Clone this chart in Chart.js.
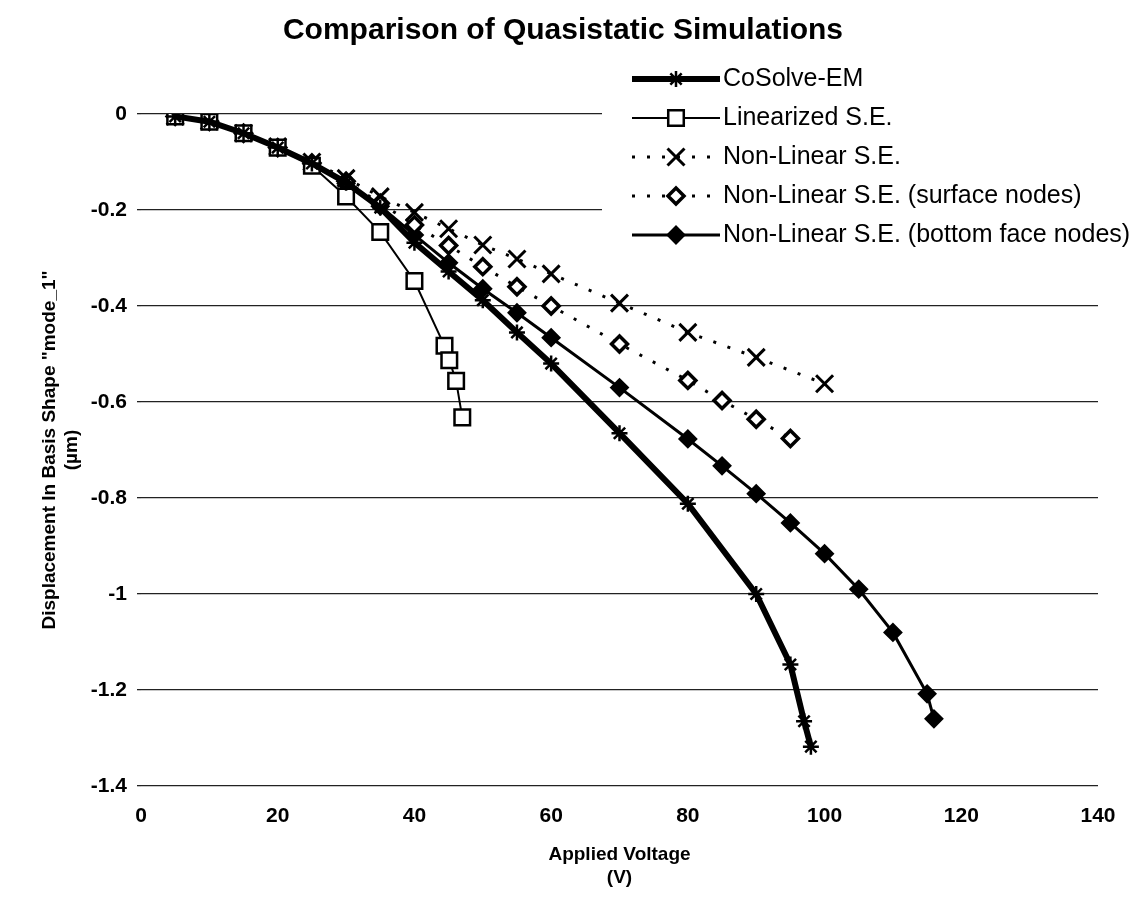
<!DOCTYPE HTML>
<html>
<head>
  <script src="https://cdn.jsdelivr.net/npm/chart.js"></script>
  <style>
    html, body { margin: 0; padding: 0; background: #fff; }
  </style>
</head>
<body>
  <canvas id="myChart" width="1139" height="907"></canvas>
  <script>
    // Series names
    const seriesNames = ["CoSolve-EM", "Linearized S.E.", "Non-Linear S.E.",
      "Non-Linear S.E. (surface nodes)", "Non-Linear S.E. (bottom face nodes)"];

    // Applied voltage (V) and displacement (um)
    const cosolveV = [5, 10, 15, 20, 25, 30, 35, 40, 45, 50, 55, 60, 70, 80, 90, 95, 97, 98];
    const cosolveD = [-0.005, -0.016, -0.04, -0.07, -0.103, -0.143, -0.195, -0.268, -0.328, -0.388, -0.455, -0.52, -0.665, -0.812, -1.0, -1.147, -1.265, -1.318];

    const linearV = [5, 10, 15, 20, 25, 30, 35, 40, 44.4, 45.1, 46.1, 47];
    const linearD = [-0.005, -0.016, -0.04, -0.07, -0.108, -0.172, -0.246, -0.348, -0.483, -0.513, -0.556, -0.632];

    const nonlinV = [5, 10, 15, 20, 25, 30, 35, 40, 45, 50, 55, 60, 70, 80, 90, 100];
    const nonlinD = [-0.005, -0.015, -0.04, -0.068, -0.1, -0.134, -0.172, -0.205, -0.239, -0.273, -0.302, -0.333, -0.394, -0.455, -0.507, -0.562];

    const surfaceV = [5, 10, 15, 20, 25, 30, 35, 40, 45, 50, 55, 60, 70, 80, 85, 90, 95];
    const surfaceD = [-0.005, -0.015, -0.04, -0.07, -0.102, -0.14, -0.186, -0.231, -0.274, -0.318, -0.36, -0.4, -0.479, -0.555, -0.597, -0.636, -0.676];

    const bottomV = [5, 10, 15, 20, 25, 30, 35, 40, 45, 50, 55, 60, 70, 80, 85, 90, 95, 100, 105, 110, 115, 116];
    const bottomD = [-0.005, -0.016, -0.04, -0.07, -0.104, -0.145, -0.192, -0.252, -0.31, -0.364, -0.414, -0.466, -0.57, -0.677, -0.733, -0.791, -0.852, -0.916, -0.99, -1.08, -1.208, -1.26];

    // Tick labels
    const xTicks = [0, 20, 40, 60, 80, 100, 120, 140];
    const yTicks = [0, -0.2, -0.4, -0.6, -0.8, -1, -1.2, -1.4];

    const chartTitle = 'Comparison of Quasistatic Simulations';

    const FONT = '"Liberation Sans", Arial, sans-serif';
    Chart.defaults.font.family = FONT;
    Chart.defaults.color = '#000';

    function pts(xs, ys) {
      return xs.map((x, i) => ({ x: x, y: ys[i] }));
    }

    // title + legend at the upper right (line sample, marker, text)
    const sideLegend = {
      id: 'sideLegend',
      beforeDatasetsDraw(chart) {
        const ctx = chart.ctx;
        ctx.save();
        ctx.fillStyle = '#fff';
        ctx.fillRect(602, 56, 537, 202);
        ctx.restore();
      },
      afterDatasetsDraw(chart) {
        const ctx = chart.ctx;
        ctx.save();
        ctx.fillStyle = '#000';
        ctx.font = 'bold 30px ' + FONT;
        ctx.textAlign = 'center';
        ctx.textBaseline = 'middle';
        ctx.fillText(chartTitle, 563, 31);
        ctx.restore();

        chart.data.datasets.forEach((ds, i) => {
          const y = 79 + i * 39;
          ctx.save();
          ctx.strokeStyle = ds.borderColor;
          ctx.lineWidth = ds.borderWidth;
          ctx.setLineDash(ds.borderDash || []);
          ctx.beginPath();
          ctx.moveTo(632, y);
          ctx.lineTo(720, y);
          ctx.stroke();
          ctx.setLineDash([]);
          ctx.fillStyle = ds.pointBackgroundColor;
          ctx.strokeStyle = ds.pointBorderColor;
          ctx.lineWidth = ds.pointBorderWidth;
          Chart.helpers.drawPoint(ctx, {
            pointStyle: ds.pointStyle, radius: ds.pointRadius,
            borderWidth: ds.pointBorderWidth, rotation: 0
          }, 676, y);
          ctx.fillStyle = '#000';
          ctx.font = '25px ' + FONT;
          ctx.textBaseline = 'middle';
          ctx.textAlign = 'left';
          ctx.fillText(ds.label, 723, y);
          ctx.restore();
        });
      }
    };

    const data = {
      datasets: [
        {
          label: seriesNames[0], data: pts(cosolveV, cosolveD),
          borderColor: '#000', borderWidth: 6,
          pointStyle: 'star', pointRadius: 8, pointBorderWidth: 2.5,
          pointBorderColor: '#000', pointBackgroundColor: '#000'
        },
        {
          label: seriesNames[1], data: pts(linearV, linearD),
          borderColor: '#000', borderWidth: 2,
          pointStyle: 'rect', pointRadius: 11, pointBorderWidth: 2.5,
          pointBorderColor: '#000', pointBackgroundColor: '#fff'
        },
        {
          label: seriesNames[2], data: pts(nonlinV, nonlinD),
          borderColor: '#000', borderWidth: 3, borderDash: [3, 12],
          pointStyle: 'crossRot', pointRadius: 12, pointBorderWidth: 3,
          pointBorderColor: '#000', pointBackgroundColor: '#000'
        },
        {
          label: seriesNames[3], data: pts(surfaceV, surfaceD),
          borderColor: '#000', borderWidth: 3, borderDash: [3, 12],
          pointStyle: 'rectRot', pointRadius: 8, pointBorderWidth: 3.5,
          pointBorderColor: '#000', pointBackgroundColor: '#fff'
        },
        {
          label: seriesNames[4], data: pts(bottomV, bottomD),
          borderColor: '#000', borderWidth: 3,
          pointStyle: 'rectRot', pointRadius: 8.5, pointBorderWidth: 2,
          pointBorderColor: '#000', pointBackgroundColor: '#000'
        }
      ]
    };

    const options = {
      responsive: false,
      animation: false,
      devicePixelRatio: 1,
      layout: { padding: { left: 0, right: 41, top: 114, bottom: 0 } },
      elements: { line: { tension: 0, fill: false } },
      plugins: {
        legend: { display: false },
        tooltip: { enabled: false },
        title: { display: false }
      },
      scales: {
        x: {
          type: 'linear', min: 0, max: 140,
          afterBuildTicks: s => { s.ticks = xTicks.map(v => ({ value: v })); },
          afterFit: s => { s.height = 121; },
          grid: { display: false, drawTicks: false },
          border: { display: false },
          ticks: { color: '#000', font: { size: 21, weight: 'bold' }, padding: 18, maxRotation: 0 },
          title: {
            display: true, text: ['Applied Voltage', '(V)'], color: '#000',
            font: { size: 19, weight: 'bold' }, padding: { top: 8, bottom: 18 }
          }
        },
        y: {
          type: 'linear', min: -1.4, max: 0,
          afterBuildTicks: s => { s.ticks = yTicks.map(v => ({ value: v })); },
          afterFit: s => { s.width = 141; },
          grid: { color: '#222', lineWidth: 1.3, tickLength: 4 },
          border: { display: false },
          ticks: {
            color: '#000', font: { size: 21, weight: 'bold' }, padding: 10,
            callback: v => String(+v.toFixed(1))
          },
          title: {
            display: true, text: ['Displacement In Basis Shape "mode_1"', '(\u00b5m)'], color: '#000',
            font: { size: 19, weight: 'bold' }, padding: { top: 38, bottom: 0 }
          }
        }
      }
    };

    window.onload = function () {
      const ctx = document.getElementById('myChart').getContext('2d');
      new Chart(ctx, { type: 'line', data: data, options: options, plugins: [sideLegend] });
    };
  </script>
</body>
</html>
